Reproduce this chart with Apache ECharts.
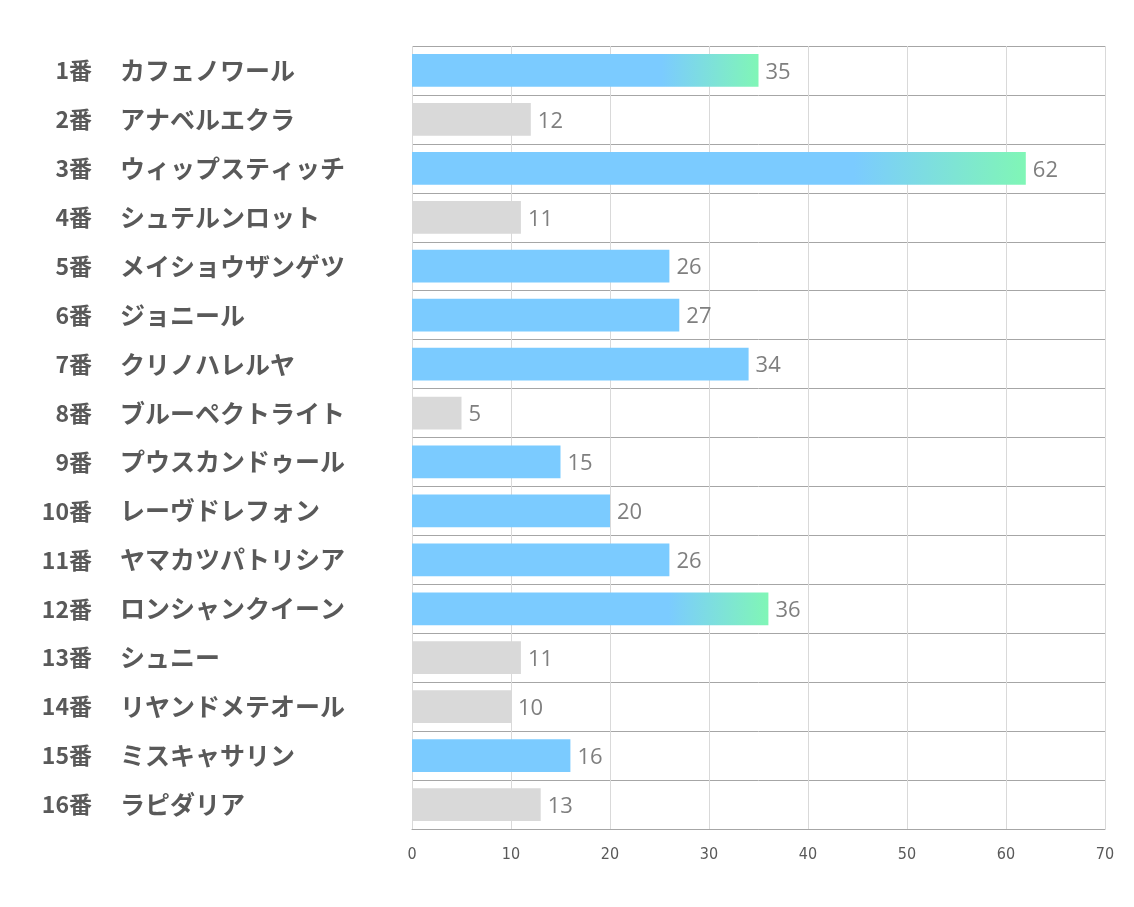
<!DOCTYPE html>
<html>
<head>
<meta charset="utf-8">
<script src="https://cdn.jsdelivr.net/npm/echarts@6/dist/echarts.min.js"></script>
<style>
html,body{margin:0;padding:0;background:#fff;}
#chart{width:1134px;height:907px;}
</style>
</head>
<body>
<div id="chart"></div>
<script>
const numbers = ['1番','2番','3番','4番','5番','6番','7番','8番','9番','10番','11番','12番','13番','14番','15番','16番'];
const names = ['カフェノワール','アナベルエクラ','ウィップスティッチ','シュテルンロット','メイショウザンゲツ','ジョニール','クリノハレルヤ','ブルーペクトライト','プウスカンドゥール','レーヴドレフォン','ヤマカツパトリシア','ロンシャンクイーン','シュニー','リヤンドメテオール','ミスキャサリン','ラピダリア'];
const values = [35,12,62,11,26,27,34,5,15,20,26,36,11,10,16,13];
// bar style kind: 'top' = gradient, 'mid' = blue, 'low' = gray
const kinds = ['top','low','top','low','mid','mid','mid','low','mid','mid','mid','top','low','low','mid','low'];
const xTicks = [0,10,20,30,40,50,60,70];

const BLUE = '#7BCBFF';
const GREEN = '#80F6B6';
const GRAY = '#D9D9D9';
const GRID_LEFT = 412;

function styleFor(kind){
  if (kind === 'top') {
    return new echarts.graphic.LinearGradient(0,0,1,0,[
      {offset:0,color:BLUE},{offset:0.72,color:BLUE},{offset:1,color:GREEN}
    ]);
  }
  return kind === 'mid' ? BLUE : GRAY;
}

const labelFont = '"Noto Sans CJK JP",sans-serif';

const chart = echarts.init(document.getElementById('chart'));
chart.setOption({
  animation:false,
  backgroundColor:'#fff',
  grid:{left:GRID_LEFT,right:29,top:46,bottom:78,containLabel:false},
  xAxis:{
    type:'value',
    min:xTicks[0], max:xTicks[xTicks.length-1], interval:10,
    axisLine:{show:true,lineStyle:{color:'#A6A6A6',width:1}},
    axisTick:{show:false},
    splitLine:{show:true,lineStyle:{color:'#D9D9D9',width:1}},
    axisLabel:{color:'#595959',fontSize:16,fontFamily:'"Liberation Sans Narrow","DejaVu Sans Condensed",sans-serif',margin:18}
  },
  yAxis:[{
    type:'category',
    inverse:true,
    position:'left',
    data:numbers,
    axisLine:{show:false},
    axisTick:{show:false},
    splitLine:{show:true,lineStyle:{color:'#A6A6A6',width:1}},
    axisLabel:{
      align:'right',
      margin:GRID_LEFT-92,
      fontSize:23,fontWeight:'bold',color:'#595959',fontFamily:labelFont
    }
  },{
    type:'category',
    inverse:true,
    position:'left',
    offset:0,
    data:names,
    axisLine:{show:false},
    axisTick:{show:false},
    splitLine:{show:false},
    axisLabel:{
      align:'left',
      margin:GRID_LEFT-120,
      fontSize:25,fontWeight:'bold',color:'#595959',fontFamily:labelFont
    }
  }],
  series:[{
    type:'bar',
    yAxisIndex:0,
    barWidth:'67%',
    data:values.map((v,i)=>({value:v,itemStyle:{color:styleFor(kinds[i])}})),
    label:{
      show:true,position:'right',distance:7,
      color:'#7F7F7F',fontSize:22,fontFamily:'"Open Sans","Noto Sans",sans-serif',
      offset:[0,2]
    }
  }]
});
</script>
</body>
</html>
